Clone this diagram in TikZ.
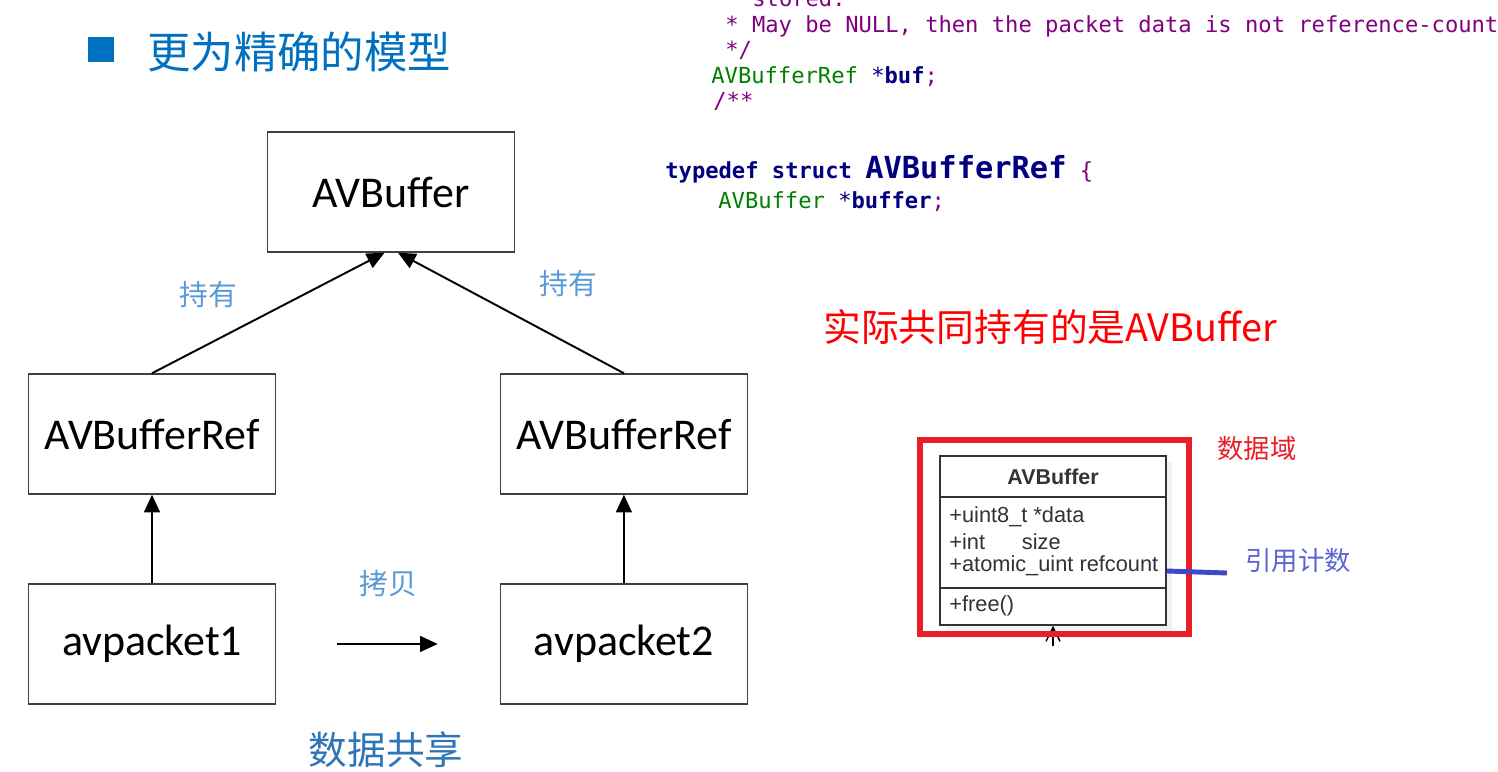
\documentclass[tikz,border=0pt]{standalone}
\usepackage{fontspec}
\setmainfont{Carlito}
\setsansfont{Liberation Sans}
\setmonofont{DejaVu Sans Mono}
\newfontfamily\cjk{Noto Sans CJK SC}
\usetikzlibrary{arrows.meta,positioning}
\definecolor{titleblue}{RGB}{0,112,192}
\definecolor{labelblue}{RGB}{91,155,213}
\definecolor{shareblue}{RGB}{46,117,182}
\definecolor{codepurple}{RGB}{128,0,128}
\definecolor{codegreen}{RGB}{0,128,0}
\definecolor{codenavy}{RGB}{0,0,128}
\definecolor{markred}{RGB}{232,30,40}
\definecolor{markblue}{RGB}{62,72,200}

\begin{document}
\begin{tikzpicture}[x=0.02cm,y=-0.02cm,
            block/.style={draw=black!75,line width=0.85pt,fill=white,minimum width=4.94cm,minimum height=2.4cm,font=\fontsize{25}{30}\selectfont},
            to/.style={-{Triangle[length=10pt,width=9pt]},line width=1.1pt},
            note/.style={font=\cjk\fontsize{16.4}{20}\selectfont,text=labelblue},
            code/.style={anchor=base west,inner sep=0pt,font=\ttfamily\fontsize{12.6}{15}\selectfont},
            member/.style={anchor=west,inner sep=0pt,text=black!80,font=\sffamily\fontsize{12.4}{15}\selectfont},
            umlline/.style={draw=black!80,line width=0.85pt}
  ]
  \clip (0,0) rectangle (1498,771);

  % title
  \fill[titleblue] (88,37) rectangle (114,62);
  \node[anchor=west,inner sep=0pt,text=titleblue,font=\cjk\fontsize{24.7}{30}\selectfont] (title) at (147,52) {更为精确的模型};

  % sharing model
  \node[block] (buf) at (391,192) {AVBuffer};
  \node[block] (refL) at (152,434) {AVBufferRef};
  \node[block] (refR) [right=4.47cm of refL] {AVBufferRef};
  \node[block] (pkt1) [below=1.77cm of refL] {avpacket1};
  \node[block] (pkt2) [below=1.77cm of refR] {avpacket2};

  \draw[to] (refL.north) -- ([xshift=-0.13cm]buf.south);
  \draw[to] (refR.north) -- ([xshift=0.14cm]buf.south);
  \draw[to] (pkt1) -- (refL);
  \draw[to] (pkt2) -- (refR);
  \draw[to,shorten <=1.22cm,shorten >=1.24cm] (pkt1) -- (pkt2);

  \node[note] (holdL) at (208,295) {持有};
  \node[note] (holdR) at (568,284) {持有};
  \node[note] (copy) at (388,584) {拷贝};
  \node[font=\cjk\fontsize{22}{26}\selectfont,text=shareblue] (share) at (386,750) {数据共享};

  % source code
  \node[code,text=codepurple] (c1) at (752,6) {stored.};
  \node[code,text=codepurple] (c2) at (725,32) {* May be NULL, then the packet data is not reference-count};
  \node[code,text=codepurple] (c3) at (725,57) {*/};
  \node[code] (c4) at (711,83) {\textcolor{codegreen}{AVBufferRef} \textcolor{codenavy}{*\textbf{buf}}\textcolor{codepurple}{;}};
  \node[code,text=codepurple] (c5) at (713,108) {/**};
  \node[code] (c6) at (665,178) {\textcolor{codenavy}{\textbf{typedef struct} \fontsize{17.3}{20}\selectfont\textbf{AVBufferRef}} \textcolor{codepurple}{\{}};
  \node[code] (c7) at (718,208) {\textcolor{codegreen}{AVBuffer} \textcolor{codenavy}{*\textbf{buffer}}\textcolor{codepurple}{;}};

  \node[anchor=west,inner sep=0pt,text=red,font=\cjk\fontsize{21.5}{26}\selectfont] (owner) at (823,327) {实际共同持有的是AVBuffer};

  % AVBuffer class
  \fill[black!5] (946,462) rectangle (1172,631);
  \node[draw=black!80,line width=0.85pt,fill=white,minimum width=4.52cm,minimum height=3.38cm] (uml) at (1053,540.5) {};
  \node[font=\sffamily\bfseries\fontsize{12.2}{15}\selectfont,text=black!80] (umlname) at (1053,477) {AVBuffer};
  \draw[umlline] (uml.west |- 0,497) -- (uml.east |- 0,497);
  \draw[umlline] (uml.west |- 0,588) -- (uml.east |- 0,588);
  \node[member] (m1) at (949,517) {+uint8\_t *data};
  \node[member] (m2) at (949,542) {+int\hspace{21pt}size};
  \node[member] (m3) at (949,566) {+atomic\_uint refcount};
  \node[member] (m4) at (949,606) {+free()};

  \coordinate (stem) at (1053,646);
  \draw[-{Straight Barb[length=8pt,width=8pt]},line width=0.8pt] (stem) -- (uml.south);
  \node[draw=markred,line width=3.4pt,minimum width=5.38cm,minimum height=3.88cm] (domain) at (1054.5,537) {};
  \node[anchor=west,inner sep=0pt,text=markred,font=\cjk\fontsize{15}{18}\selectfont] (domainlbl) at (1217,449) {数据域};

  \coordinate (tick) at (1227,573);
  \draw[markblue,line width=2.8pt] (uml.east |- 0,571) -- (tick);
  \node[anchor=west,inner sep=0pt,text=markblue!85,font=\cjk\fontsize{15}{18}\selectfont] (count) at (1245,561) {引用计数};
\end{tikzpicture}
\end{document}
